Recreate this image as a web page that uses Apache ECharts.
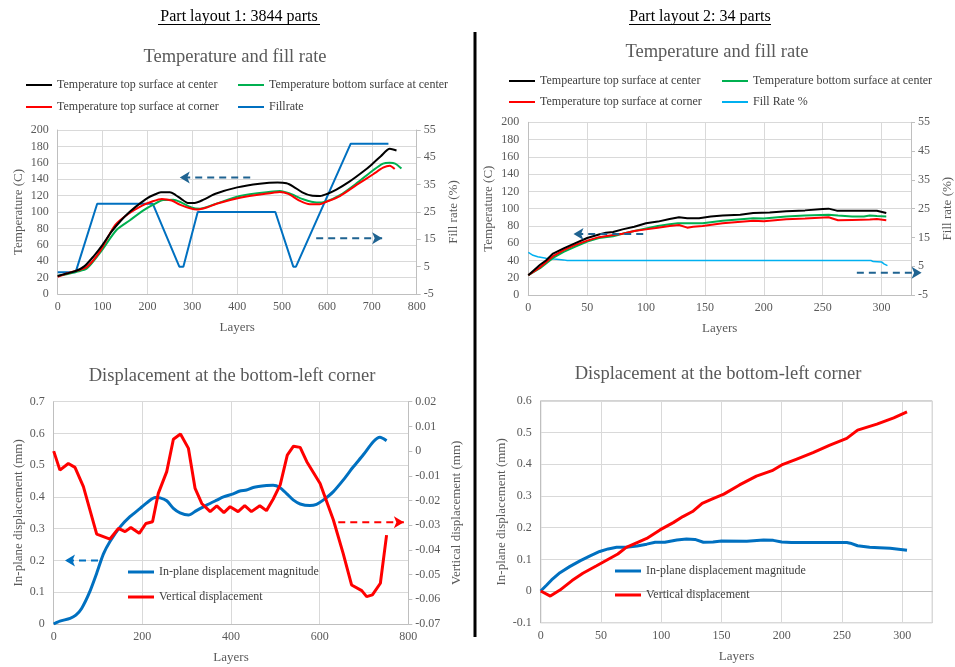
<!DOCTYPE html>
<html>
<head>
<meta charset="utf-8">
<script src="https://cdn.jsdelivr.net/npm/echarts@6/dist/echarts.min.js"></script>
<style>
html,body{margin:0;padding:0;background:#fff;}
#main{width:955px;height:667px;}
</style>
</head>
<body>
<div id="main"></div>
<script>
// ---------- Panel 1: Part layout 1, temperature and fill rate ----------
const p1TopCenterX = [0, 20, 40, 60, 80, 100, 120, 140, 160, 180, 200, 215, 230, 250, 262, 275, 290, 305, 325, 350, 400, 450, 490, 510, 525, 545, 565, 585, 600, 620, 650, 680, 700, 720, 740, 755];
const p1TopCenterY = [22, 25, 28, 34, 46, 60, 76, 89, 100, 109, 117, 121, 124, 124, 121, 116, 111, 111, 115, 122, 130, 134.5, 136, 135, 131, 124, 120, 119.5, 122, 127, 137, 149, 158, 168, 177, 175];
const p1BottomCenterX = [0, 20, 42, 65, 94, 131, 161, 191, 213, 235, 258, 272, 298, 317, 347, 406, 480, 495, 517, 547, 577, 599, 629, 666, 703, 725, 740, 752, 766];
const p1BottomCenterY = [22, 24, 27, 31, 50, 78, 90, 102, 109, 114.5, 115, 112.5, 105.5, 104, 109, 119.5, 125, 125.5, 122.5, 115.5, 111.5, 113, 120.5, 135, 151, 159, 160, 159, 153];
const p1TopCornerX = [0, 20, 42, 65, 94, 128, 157, 187, 209, 232, 254, 272, 295, 310, 332, 354, 406, 480, 495, 514, 540, 562, 584, 599, 629, 666, 703, 725, 740, 751];
const p1TopCornerY = [21, 25, 28.5, 33, 52, 84, 97.5, 107.5, 112.5, 116, 114, 109, 104.5, 103, 105.5, 110, 117.5, 123.5, 124.5, 122, 113.5, 109.5, 109.5, 112.5, 119.5, 133, 146, 154, 156.5, 152.5];
const p1FillX = [0, 40, 88, 212, 271, 280, 312, 485, 525, 531, 653, 737];
const p1FillY = [3, 3, 28, 28, 5, 5, 25, 25, 5, 5, 50, 50];

// ---------- Panel 2: Part layout 2, temperature and fill rate ----------
const p2TopCenterX = [0, 5, 10, 15, 21, 30, 40, 50, 60, 66, 72, 80, 90, 100, 110, 120, 128, 135, 145, 155, 165, 180, 191, 205, 219, 235, 250, 255, 262, 275, 290, 296, 304];
const p2TopCenterY = [23, 29, 35, 40, 48, 54, 60, 66, 70, 72, 73, 76, 79, 83, 85, 88, 90, 89, 89, 91, 92, 93, 95, 95.5, 97, 98, 99.5, 100, 97.7, 97.7, 97.7, 97.5, 95];
const p2BottomCenterX = [0, 10, 21, 30, 40, 50, 60, 72, 80, 90, 100, 110, 120, 127, 137, 148, 165, 191, 200, 219, 235, 255, 263, 275, 285, 290, 296, 304];
const p2BottomCenterY = [23, 31, 43, 50, 56, 62, 66, 68, 71, 74, 77, 80, 82, 83, 83, 83, 86, 89, 88.5, 91, 92, 93, 92, 91, 91, 92, 91.5, 91];
const p2TopCornerX = [0, 10, 21, 30, 40, 50, 60, 72, 80, 90, 100, 110, 120, 128, 135, 140, 148, 165, 191, 200, 219, 235, 255, 263, 275, 290, 296, 304];
const p2TopCornerY = [23, 32, 45, 52, 58, 63, 67, 69.5, 71, 74, 76, 78, 80, 81, 78, 79, 80, 83, 86, 85.5, 87.6, 88.5, 90, 86.5, 87, 87.5, 88, 86.5];
const p2FillX = [0, 4, 8, 15, 22, 30, 33, 291, 293, 300, 302, 305];
const p2FillY = [9.8, 8.8, 8.3, 7.8, 7.5, 7.2, 7, 7, 6.6, 6.5, 5.8, 5.2];

// ---------- Panel 3: Part layout 1, displacement ----------
const p3InPlaneX = [0, 14, 37, 50, 63, 80, 97, 112, 127, 150, 172, 195, 213, 229, 240, 255, 270, 285, 304, 322, 346, 368, 383, 405, 420, 435, 450, 480, 495, 510, 526, 541, 556, 578, 593, 608, 631, 653, 676, 698, 721, 736, 751];
const p3InPlaneY = [0, 0.009, 0.018, 0.028, 0.049, 0.097, 0.16, 0.22, 0.26, 0.306, 0.338, 0.364, 0.385, 0.398, 0.397, 0.388, 0.364, 0.35, 0.343, 0.357, 0.375, 0.39, 0.40, 0.41, 0.419, 0.422, 0.43, 0.436, 0.437, 0.43, 0.41, 0.39, 0.378, 0.373, 0.377, 0.39, 0.417, 0.453, 0.495, 0.532, 0.574, 0.588, 0.577];
const p3VerticalX = [0, 14, 33, 48, 67, 97, 127, 146, 161, 174, 193, 208, 223, 236, 255, 270, 286, 304, 319, 334, 353, 368, 384, 398, 416, 431, 446, 465, 480, 495, 511, 527, 541, 556, 571, 601, 631, 653, 672, 695, 706, 719, 737, 751];
const p3VerticalY = [0, -0.0077, -0.005, -0.0066, -0.0144, -0.0336, -0.0356, -0.0313, -0.0326, -0.0309, -0.0333, -0.0293, -0.0286, -0.0171, -0.0083, 0.0048, 0.0069, 0.0011, -0.0151, -0.0212, -0.0245, -0.0222, -0.0249, -0.0225, -0.0245, -0.0221, -0.0245, -0.0221, -0.0241, -0.0195, -0.0137, -0.0016, 0.002, 0.0015, -0.0043, -0.0131, -0.0279, -0.0414, -0.0542, -0.0565, -0.0589, -0.0582, -0.0535, -0.034];

// ---------- Panel 4: Part layout 2, displacement ----------
const p4InPlaneX = [0, 5, 9, 16, 24, 33, 41, 49, 56, 63, 71, 80, 88, 95, 103, 113, 121, 128, 135, 143, 150, 171, 185, 193, 200, 208, 226, 254, 257, 263, 273, 281, 290, 304];
const p4InPlaneY = [0, 0.019, 0.035, 0.058, 0.077, 0.096, 0.111, 0.125, 0.133, 0.138, 0.138, 0.142, 0.148, 0.154, 0.154, 0.161, 0.164, 0.163, 0.154, 0.155, 0.158, 0.157, 0.161, 0.16, 0.155, 0.153, 0.153, 0.153, 0.151, 0.143, 0.138, 0.137, 0.135, 0.129];
const p4VerticalX = [0, 8, 16, 26, 35, 46, 55, 64, 71, 80, 88, 99, 110, 118, 126, 134, 143, 152, 165, 179, 192, 200, 212, 226, 240, 254, 263, 279, 293, 304];
const p4VerticalY = [0, -0.016, 0.003, 0.033, 0.056, 0.079, 0.098, 0.117, 0.138, 0.153, 0.166, 0.193, 0.216, 0.235, 0.251, 0.277, 0.292, 0.306, 0.335, 0.363, 0.38, 0.398, 0.416, 0.437, 0.461, 0.482, 0.508, 0.527, 0.547, 0.566];

// ---------- Annotation arrows (data units) ----------
const p1ArrowTemp = [[429, 142], [272, 142]];
const p1ArrowFill = [[576, 15.4], [723, 15.4]];
const p2ArrowTemp = [[97.6, 70.7], [38.4, 70.7]];
const p2ArrowFill = [[279, 2.7], [334, 2.7]];
const p3ArrowInPlane = [[100, 0.2], [25.5, 0.2]];
const p3ArrowVertical = [[642, -0.0288], [790, -0.0288]];

// ---------- Text ----------
const headline1 = 'Part layout 1: 3844 parts';
const headline2 = 'Part layout 2: 34 parts';
const tempTitle = 'Temperature and fill rate';
const dispTitle = 'Displacement at the bottom-left corner';
const n1TopCenter = 'Temperature top surface at center';
const n2TopCenter = 'Tempearture top surface at center';
const nBottomCenter = 'Temperature bottom surface at center';
const nTopCorner = 'Temperature top surface at corner';
const n1Fill = 'Fillrate';
const n2Fill = 'Fill Rate %';
const nInPlane = 'In-plane displacement magnitude';
const nVertical = 'Vertical displacement';

const FONT = 'Liberation Serif';
const GRAY = '#595959';
const GRIDC = '#d9d9d9';
const AXISC = '#bfbfbf';
const ARROWC = '#1f6391';

function pairs(xs, ys) { return xs.map((x, i) => [x, ys[i]]); }

function lineSeries(name, xs, ys, xi, yi, color, width, smooth) {
  return {
    type: 'line', name: name, xAxisIndex: xi, yAxisIndex: yi,
    data: pairs(xs, ys), symbol: 'none', showSymbol: false,
    smooth: smooth ? 0.25 : false,
    lineStyle: { color: color, width: width }, itemStyle: { color: color },
    animation: false, z: 3
  };
}

function arrowSeries(pts, xi, yi, color, rot) {
  return {
    type: 'line', xAxisIndex: xi, yAxisIndex: yi, clip: false, silent: true,
    symbol: 'none', showSymbol: true, animation: false, z: 4,
    lineStyle: { color: color, width: 2, type: [7, 5] }, itemStyle: { color: color },
    data: [pts[0], { value: pts[1], symbol: 'arrow', symbolSize: [9, 10], symbolRotate: rot }]
  };
}

function xAxis(gi, max, interval, hideMax) {
  return {
    type: 'value', gridIndex: gi, min: 0, max: max, interval: interval,
    name: 'Layers', nameLocation: 'middle', nameGap: 27,
    nameTextStyle: { fontFamily: FONT, fontSize: 13, color: GRAY },
    axisLine: { show: true, lineStyle: { color: AXISC } },
    axisTick: { show: false },
    axisLabel: { fontFamily: FONT, fontSize: 12, color: GRAY, margin: 7, showMaxLabel: !hideMax },
    splitLine: { show: true, lineStyle: { color: GRIDC } }
  };
}

function yAxis(gi, pos, min, max, interval, name, gap, split, fmt) {
  return {
    type: 'value', gridIndex: gi, position: pos, min: min, max: max, interval: interval,
    name: name, nameLocation: 'middle', nameGap: gap,
    nameTextStyle: { fontFamily: FONT, fontSize: 13, color: GRAY },
    axisLine: { show: true, lineStyle: { color: AXISC } },
    axisTick: { show: pos === 'right', length: 4, lineStyle: { color: AXISC } },
    axisLabel: { fontFamily: FONT, fontSize: 12, color: GRAY, margin: pos === 'right' ? 7 : 9,
      formatter: fmt || undefined, showMinLabel: true, showMaxLabel: true },
    splitLine: { show: split, lineStyle: { color: GRIDC } }
  };
}

function fmtNum(v) { return String(parseFloat(Number(v).toFixed(4))); }

function legend(left, top, names, gap, h) {
  return {
    orient: 'vertical', left: left, top: top, data: names, icon: 'rect', padding: 0,
    itemWidth: 26, itemHeight: h, itemGap: gap, selectedMode: false,
    textStyle: { fontFamily: FONT, fontSize: 12, color: '#404040', lineHeight: 14 }
  };
}

function title(text, cx, top, size, color) {
  return { text: text, left: cx, top: top, textAlign: 'center', padding: 0,
    textStyle: { fontFamily: FONT, fontSize: size, fontWeight: 'normal', color: color } };
}

const chart = echarts.init(document.getElementById('main'));
chart.setOption({
  backgroundColor: '#ffffff',
  animation: false,
  title: [
    title(headline1, 239, 9, 16, '#000'),
    title(headline2, 700, 9, 16, '#000'),
    title(tempTitle, 235, 48, 18.5, GRAY),
    title(tempTitle, 717, 43, 18.5, GRAY),
    title(dispTitle, 232, 367, 18.5, GRAY),
    title(dispTitle, 718, 365, 18.5, GRAY)
  ],
  legend: [
    legend(26, 78, [n1TopCenter, nTopCorner], 8, 2),
    legend(238, 78, [nBottomCenter, n1Fill], 8, 2),
    legend(509, 74, [n2TopCenter, nTopCorner], 7, 2),
    legend(722, 74, [nBottomCenter, n2Fill], 7, 2),
    legend(128, 565, [nInPlane, nVertical], 11, 3),
    legend(615, 564, [nInPlane, nVertical], 10, 3)
  ],
  grid: [
    { left: 57.7, right: 538.3, top: 130, bottom: 373 },
    { left: 528.3, right: 42.7, top: 122.3, bottom: 372 },
    { left: 53.7, right: 546.7, top: 401.7, bottom: 43 },
    { left: 540.7, right: 22.7, top: 401, bottom: 44.3, show: true, borderColor: '#a6a6a6', borderWidth: 1 }
  ],
  xAxis: [
    xAxis(0, 800, 100, false),
    xAxis(1, 325, 50, true),
    xAxis(2, 800, 200, false),
    xAxis(3, 325, 50, true)
  ],
  yAxis: [
    yAxis(0, 'left', 0, 200, 20, 'Temperature (C)', 33, true),
    yAxis(0, 'right', -5, 55, 10, 'Fill rate (%)', 30, false),
    yAxis(1, 'left', 0, 200, 20, 'Temperature (C)', 33, true),
    yAxis(1, 'right', -5, 55, 10, 'Fill rate (%)', 30, false),
    yAxis(2, 'left', 0, 0.7, 0.1, 'In-plane displacement (mm)', 29, true, fmtNum),
    yAxis(2, 'right', -0.07, 0.02, 0.01, 'Vertical displacement (mm)', 42, false, fmtNum),
    yAxis(3, 'left', -0.1, 0.6, 0.1, 'In-plane displacement (mm)', 33, true, fmtNum)
  ],
  graphic: [
    { type: 'line', shape: { x1: 475, y1: 32, x2: 475, y2: 637 }, style: { stroke: '#000', lineWidth: 3 } },
    { type: 'line', shape: { x1: 158, y1: 24.5, x2: 320, y2: 24.5 }, style: { stroke: '#000', lineWidth: 1 } },
    { type: 'line', shape: { x1: 629, y1: 24.5, x2: 771, y2: 24.5 }, style: { stroke: '#000', lineWidth: 1 } }
  ],
  series: [
    lineSeries(n1Fill, p1FillX, p1FillY, 0, 1, '#0070c0', 2, false),
    lineSeries(nBottomCenter, p1BottomCenterX, p1BottomCenterY, 0, 0, '#00b050', 2, true),
    lineSeries(nTopCorner, p1TopCornerX, p1TopCornerY, 0, 0, '#ff0000', 2, true),
    lineSeries(n1TopCenter, p1TopCenterX, p1TopCenterY, 0, 0, '#000000', 2, true),
    arrowSeries(p1ArrowTemp, 0, 0, ARROWC, 90),
    arrowSeries(p1ArrowFill, 0, 1, ARROWC, -90),

    lineSeries(n2Fill, p2FillX, p2FillY, 1, 3, '#00b0f0', 1.5, false),
    lineSeries(nBottomCenter, p2BottomCenterX, p2BottomCenterY, 1, 2, '#00b050', 2, false),
    lineSeries(nTopCorner, p2TopCornerX, p2TopCornerY, 1, 2, '#ff0000', 2, false),
    lineSeries(n2TopCenter, p2TopCenterX, p2TopCenterY, 1, 2, '#000000', 2, false),
    arrowSeries(p2ArrowTemp, 1, 2, ARROWC, 90),
    arrowSeries(p2ArrowFill, 1, 3, ARROWC, -90),

    lineSeries(nInPlane, p3InPlaneX, p3InPlaneY, 2, 4, '#0070c0', 3, true),
    lineSeries(nVertical, p3VerticalX, p3VerticalY, 2, 5, '#ff0000', 3, false),
    arrowSeries(p3ArrowInPlane, 2, 4, '#0070c0', 90),
    arrowSeries(p3ArrowVertical, 2, 5, '#ff0000', -90),

    lineSeries(nInPlane, p4InPlaneX, p4InPlaneY, 3, 6, '#0070c0', 3, false),
    lineSeries(nVertical, p4VerticalX, p4VerticalY, 3, 6, '#ff0000', 3, false)
  ]
});
</script>
</body>
</html>
